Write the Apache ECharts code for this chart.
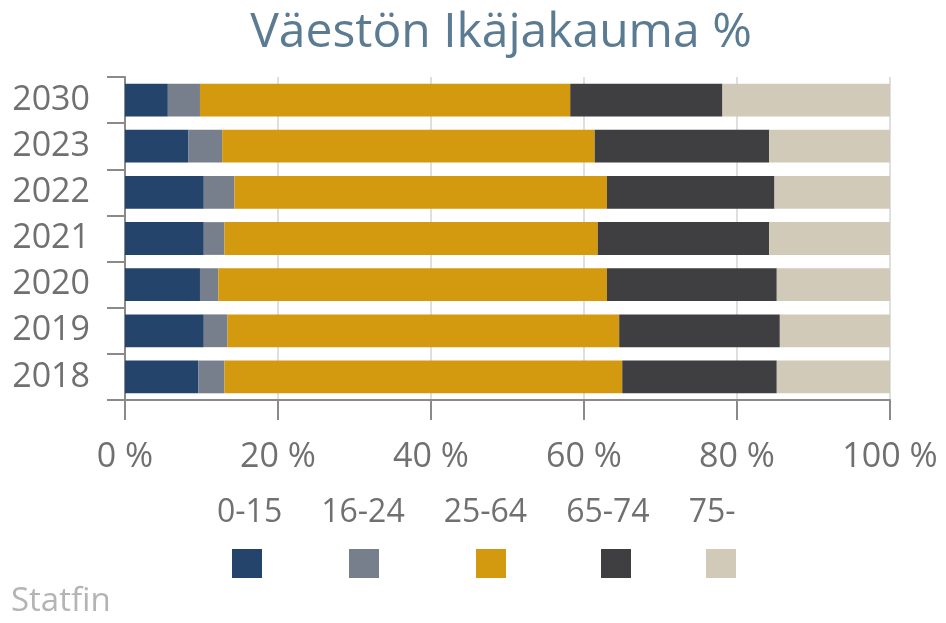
<!DOCTYPE html>
<html lang="fi">
<head>
    <meta charset="UTF-8">
    <title>Väestön Ikäjakauma %</title>
    <style>
        body { padding: 0; margin: 0; background-color: #FFFFFF; overflow: hidden; }
        #main_chart { width: 946px; height: 623px; }
    </style>
</head>
<body>
<div id="main_chart"></div>
<script type="text/javascript" src="https://cdn.jsdelivr.net/npm/echarts@6/dist/echarts.min.js"></script>
<script type="text/javascript">
var years = ['2030', '2023', '2022', '2021', '2020', '2019', '2018'];
var groups = ['0-15', '16-24', '25-64', '65-74', '75-'];
var colors = ['#24446b', '#767f8b', '#d3990f', '#3f3f42', '#d1cab9'];

// osuudet (%) vuosittain, sama järjestys kuin years
var age0_15  = [5.6, 8.3, 10.3, 10.3, 9.8, 10.3, 9.6];
var age16_24 = [4.2, 4.4, 4.0, 2.7, 2.4, 3.1, 3.4];
var age25_64 = [48.4, 48.7, 48.7, 48.8, 50.8, 51.2, 52.0];
var age65_74 = [19.9, 22.8, 21.9, 22.4, 22.2, 21.0, 20.2];
var age75    = [21.9, 15.8, 15.1, 15.8, 14.8, 14.4, 14.8];

var values = [age0_15, age16_24, age25_64, age65_74, age75];
var swatchLeft = [232, 349, 476, 601, 706];

var font = 'Open Sans';

var series = groups.map(function (g, i) {
    return {
        name: g,
        type: 'bar',
        stack: 'total',
        data: values[i],
        barCategoryGap: '29%',
        itemStyle: { color: colors[i] }
    };
});

// tekstit ylärivissä, värilaatikot alla
var legends = [{
    data: groups,
    left: 212,
    top: 493,
    padding: 0,
    icon: 'none',
    itemWidth: 0,
    itemHeight: 0,
    itemGap: 34,
    selectedMode: false,
    textStyle: { fontFamily: font, fontSize: 32, color: '#707070', lineHeight: 40 }
}];
groups.forEach(function (g, i) {
    legends.push({
        data: [g],
        left: swatchLeft[i],
        top: 549,
        padding: 0,
        icon: 'rect',
        itemWidth: 30,
        itemHeight: 29,
        formatter: function () { return ''; },
        textStyle: { fontSize: 1 }
    });
});

var dom = document.getElementById('main_chart');
var chart = echarts.init(dom);

chart.setOption({
    animation: false,
    color: colors,
    title: [{
        text: 'Väestön Ikäjakauma %',
        left: 496,
        top: 4,
        textAlign: 'center',
        textStyle: { fontFamily: font, fontSize: 48, fontWeight: 'normal', color: '#5a7b91' }
    }, {
        text: 'Statfin',
        left: 6,
        top: 580,
        textStyle: { fontFamily: font, fontSize: 33, fontWeight: 'normal', color: '#b4b4b4' }
    }],
    legend: legends,
    grid: { left: 125, right: 56, top: 77, bottom: 223 },
    xAxis: {
        type: 'value',
        min: 0,
        max: 100,
        interval: 20,
        axisLine: { show: true, lineStyle: { color: '#8a8a8a', width: 2 } },
        axisTick: { show: true, length: 20, lineStyle: { color: '#8a8a8a', width: 2 } },
        axisLabel: {
            margin: 40,
            fontFamily: font,
            fontSize: 34,
            color: '#707070',
            formatter: '{value} %'
        },
        splitLine: { show: true, lineStyle: { color: '#d4d4d4', width: 1.5 } }
    },
    yAxis: {
        type: 'category',
        data: years,
        inverse: true,
        axisLine: { show: true, lineStyle: { color: '#8a8a8a', width: 2 } },
        axisTick: { show: true, length: 18, lineStyle: { color: '#8a8a8a', width: 2 } },
        axisLabel: { margin: 35, fontFamily: font, fontSize: 34, color: '#707070' }
    },
    series: series
});
</script>
</body>
</html>
